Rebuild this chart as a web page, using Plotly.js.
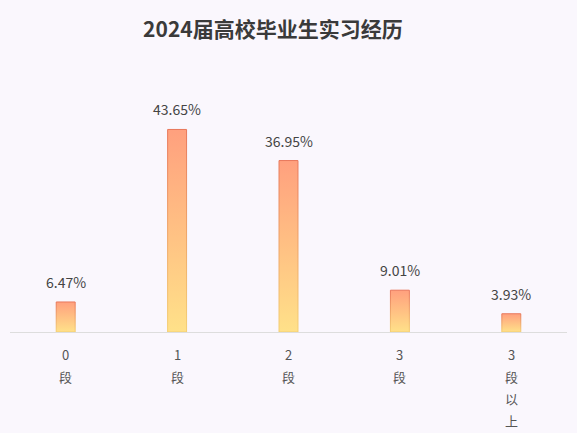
<!DOCTYPE html>
<html>
<head>
<meta charset="utf-8">
<script src="https://cdn.plot.ly/plotly-3.0.1.min.js"></script>
<style>html,body{margin:0;padding:0;background:#faf7fd;}</style>
</head>
<body>
<div id="chart" style="width:577px;height:433px;"></div>
<script>
var categories = ["0段", "1段", "2段", "3段", "3段以上"];
var tickLabels = ["0<br>段", "1<br>段", "2<br>段", "3<br>段", "3<br>段<br>以<br>上"];
var values = [6.47, 43.65, 36.95, 9.01, 3.93];
var chartTitle = "2024届高校毕业生实习经历";

var FONT = '"Noto Sans CJK SC", "Noto Sans", sans-serif';

var trace = {
  type: 'bar',
  x: categories,
  y: values,
  width: categories.map(function(){return 0.17;}),
  marker: {color: '#ffb282', line: {color: '#ec8a62', width: 1}},
  hoverinfo: 'none'
};

var annotations = categories.map(function(c, i){
  return {
    x: c, y: values[i], xref: 'x', yref: 'y',
    text: values[i].toFixed(2) + '%',
    showarrow: false, yanchor: 'bottom', yshift: 8,
    font: {family: FONT, size: 14, color: '#444444'}
  };
});

// category labels, one line per annotation for the wide line spacing
categories.forEach(function(c, i){
  tickLabels[i].split('<br>').forEach(function(line, j){
    annotations.push({
      x: c, y: 0, xref: 'x', yref: 'y',
      text: line, showarrow: false,
      yanchor: 'middle', yshift: -(22 + j * 22),
      font: {family: FONT, size: 13, color: '#555555'}
    });
  });
});

var layout = {
  width: 577, height: 433,
  paper_bgcolor: '#faf7fd',
  plot_bgcolor: '#faf7fd',
  margin: {l: 10, r: 10, t: 100, b: 101},
  title: {
    text: '<b>' + chartTitle + '</b>',
    x: 0.472, xanchor: 'center', xref: 'paper',
    y: 1 - 30/433, yanchor: 'middle', yref: 'container',
    font: {family: FONT, size: 21, color: '#3a3a3a'}
  },
  xaxis: {
    type: 'category',
    tickvals: categories,
    ticktext: tickLabels,
    showticklabels: false,
    showline: true, linecolor: '#dddddd', linewidth: 1,
    ticks: '', showgrid: false, zeroline: false,
    fixedrange: true
  },
  yaxis: {
    range: [0, 50],
    visible: false, showgrid: false, zeroline: false,
    fixedrange: true
  },
  annotations: annotations,
  showlegend: false
};

Plotly.newPlot('chart', [trace], layout, {displayModeBar: false, staticPlot: true}).then(function(gd){
  var svgNS = 'http://www.w3.org/2000/svg';
  var defs = gd.querySelector('.main-svg defs');
  function grad(id, top, bottom){
    var g = document.createElementNS(svgNS, 'linearGradient');
    g.setAttribute('id', id);
    g.setAttribute('x1', '0'); g.setAttribute('y1', '0');
    g.setAttribute('x2', '0'); g.setAttribute('y2', '1');
    var s1 = document.createElementNS(svgNS, 'stop');
    s1.setAttribute('offset', '0'); s1.setAttribute('stop-color', top);
    var s2 = document.createElementNS(svgNS, 'stop');
    s2.setAttribute('offset', '1'); s2.setAttribute('stop-color', bottom);
    g.appendChild(s1); g.appendChild(s2);
    defs.appendChild(g);
  }
  grad('barFillGrad', '#ffa07e', '#ffe189');
  grad('barLineGrad', '#e8775a', '#f4cf72');
  gd.querySelectorAll('.trace.bars .point path').forEach(function(p){
    p.style.fill = 'url(#barFillGrad)';
    p.style.stroke = 'url(#barLineGrad)';
  });
});
</script>
</body>
</html>
